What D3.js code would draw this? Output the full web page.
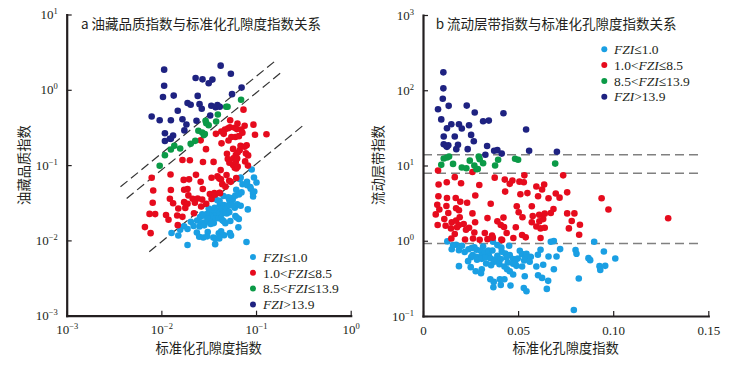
<!DOCTYPE html>
<html><head><meta charset="utf-8">
<script src="https://cdn.jsdelivr.net/npm/d3@7"></script>
<style>body{margin:0;background:#fff}</style>
</head><body>
<svg id="c" width="739" height="366"></svg>
<script>
// ---- data: [normalized porosity index φz, flow zone indicator FZI] ----
const blue = [[0.0128,0.98],[0.0151,0.77],[0.0174,0.885],[0.0189,0.75],[0.0205,0.86],[0.0219,0.71],[0.0239,0.77],[0.0256,0.80],[0.0270,0.82],[0.0281,0.76],
[0.0302,0.74],[0.0253,0.605],[0.0261,0.644],[0.0281,0.612],[0.0307,0.631],[0.0326,0.70],[0.0346,0.644],[0.0344,0.743],[0.0365,0.743],[0.0368,0.97],
[0.0391,0.875],[0.0391,0.631],[0.0414,0.714],[0.0433,0.678],[0.0453,0.858],[0.0456,0.644],[0.0237,0.536],[0.0284,0.558],[0.0309,0.575],[0.0328,0.60],
[0.0356,0.58],[0.0381,0.564],[0.0409,0.57],[0.0439,0.60],[0.0474,0.57],[0.0486,0.541],[0.0498,0.581],[0.0521,0.664],[0.0537,0.60],[0.0544,0.671],
[0.0567,0.612],[0.0618,0.76],[0.0604,0.651],[0.0660,0.618],[0.0672,0.97],[0.0688,0.99],[0.0702,0.618],[0.0721,0.774],[0.0802,0.751],[0.0807,0.671],
[0.0870,0.587],[0.0879,0.552],[0.0900,0.97],[0.0951,0.72],[0.1011,0.58],[0.0189,0.46],[0.0251,0.446],[0.0277,0.394],[0.0309,0.419],[0.0332,0.499],
[0.0358,0.474],[0.0375,0.525],[0.0402,0.489],[0.0428,0.455],[0.0446,0.514],[0.0474,0.494],[0.0491,0.464],[0.0521,0.455],[0.0532,0.547],[0.0596,0.455],
[0.0632,0.479],[0.0688,0.419],[0.0928,0.46],[0.0932,0.41],[0.0958,0.464],[0.0442,0.419],[0.0456,0.394],[0.0474,0.356],[0.0535,0.338],[0.0305,0.371],
[0.0354,0.308],[0.0372,0.284],[0.0404,0.308],[0.0428,0.308],[0.0460,0.254],[0.0370,0.241],[0.0409,0.259],[0.0605,0.348],[0.0626,0.321],[0.0658,0.293],
[0.0819,0.315],[0.0530,0.236],[0.0544,0.213],[0.0651,0.229],[0.0793,0.120],[0.0158,0.875],[0.0316,0.84],[0.0412,0.81],[0.0509,0.736],[0.0561,0.525]];

const red = [[0.0079,8.6],[0.0260,8.2],[0.0533,7.4],[0.0737,7.4],[0.0167,7.0],[0.0377,6.9],[0.0430,6.5],[0.0470,6.3],[0.0507,6.1],[0.0530,6.0],
[0.0082,5.6],[0.0125,6.0],[0.0200,5.8],[0.0296,5.5],[0.0456,5.7],[0.0596,5.25],[0.0626,4.8],[0.0637,5.6],[0.0432,4.5],[0.0549,4.3],
[0.0081,3.9],[0.0126,3.7],[0.0172,3.7],[0.0275,4.0],[0.0512,4.15],[0.0605,3.9],[0.0660,3.67],[0.0698,4.24],[0.0718,3.74],[0.0758,4.4],
[0.0939,3.67],[0.0196,3.3],[0.0232,3.2],[0.0356,3.1],[0.0075,3.0],[0.0123,2.9],[0.0174,2.7],[0.0493,2.87],[0.0572,2.87],[0.0686,2.64],
[0.0189,2.54],[0.0086,2.6],[0.0133,2.34],[0.0067,2.24],[0.0260,2.31],[0.0503,2.39],[0.0611,2.22],[0.0640,2.29],[0.0672,2.34],[0.0758,2.31],
[0.0796,2.31],[0.0975,2.6],[0.0112,1.94],[0.0151,1.76],[0.0174,1.85],[0.0193,2.05],[0.0214,1.67],[0.0339,2.0],[0.0391,1.81],[0.0423,2.03],
[0.0409,1.62],[0.0523,2.05],[0.0577,2.13],[0.0572,1.76],[0.0596,1.55],[0.0612,1.81],[0.0632,1.94],[0.0782,1.83],[0.0825,1.63],[0.1289,1.99],
[0.0077,1.62],[0.0119,1.58],[0.0189,1.62],[0.0147,1.46],[0.0179,1.51],[0.0242,1.49],[0.0274,1.76],[0.0167,1.23],[0.0226,1.40],[0.0270,1.29],
[0.0325,1.27],[0.0363,1.17],[0.0426,1.52],[0.0440,1.27],[0.0488,1.51],[0.0521,1.19],[0.0540,1.11],[0.0618,1.46],[0.0618,1.09],[0.0640,1.49],
[0.0767,1.46],[0.0821,1.20],[0.0149,1.07],[0.0221,1.04],[0.0263,1.07],[0.0298,1.03],[0.0339,1.05],[0.0367,1.10],[0.0412,1.04],[0.0475,1.09],
[0.0416,1.02]];

const green = [[0.0096,10.2],[0.0109,12.4],[0.0126,12.8],[0.0137,13.2],[0.0158,10.5],[0.0204,9.4],[0.0228,9.2],[0.0246,11.6],[0.0270,10.0],[0.0281,8.9],
[0.0293,13.2],[0.0298,12.1],[0.0316,10.7],[0.0379,10.0],[0.0395,11.9],[0.0484,12.3],[0.0500,11.9],[0.0695,10.6],[0.0288,9.0]];

const navy = [[0.0107,173],[0.0107,106],[0.0104,77],[0.0079,56],[0.0135,62],[0.0230,62.5],[0.0272,50.6],[0.0096,41],[0.0316,38.7],[0.0346,39.5],
[0.0423,49.5],[0.0126,31.3],[0.0149,35.4],[0.0189,35.4],[0.0204,31],[0.0242,34.3],[0.0542,30.1],[0.0109,24.3],[0.0167,24.3],[0.0253,25.5],
[0.0109,19.2],[0.0123,18.2],[0.0133,18.6],[0.0184,18.8],[0.0175,16.5],[0.0235,16.5],[0.0267,21],[0.0337,18.2],[0.0374,15.7],[0.0391,16],
[0.0328,13.9],[0.0414,14.4],[0.0558,15.7],[0.0704,15.2],[0.0126,17.7]];

const classNames = [["FZI","≤1.0",""],["1.0<","FZI","≤8.5"],["8.5<","FZI","≤13.9"],["FZI",">13.9",""]];
const classColors = ["#1a9fe3","#e60b1d","#0b9a47","#1e2281"];
const classData = [blue, red, green, navy];

const xTicksLeft = [1e-3,1e-2,1e-1,1];
const yTicksLeft = [1e-3,1e-2,1e-1,1,10];
const xTicksRight = [0,0.05,0.10,0.15];
const yTicksRight = [0.1,1,10,100,1000];

// reference lines
const refLinesLeft = [[[0.0037,0.0515],[0.1675,2.54]],[[0.0043,0.0361],[0.194,1.79]],[[0.00745,0.00706],[0.334,0.358]]];
const refFziRight = [13.9,7.9,0.92];
const refRightXEnd = 0.147;

const titleLeft = "a 油藏品质指数与标准化孔隙度指数关系";
const titleRight = "b 流动层带指数与标准化孔隙度指数关系";
const xLabel = "标准化孔隙度指数";
const yLabelLeft = "油藏品质指数";
const yLabelRight = "流动层带指数";

// ---- drawing ----
const svg = d3.select("#c");
const serif = "'Liberation Serif','Times New Roman',serif";
const cjk = "'Noto Sans CJK SC','Noto Sans CJK JP',sans-serif";
const ink = "#231f20";
const R = 3.3;

const xL = d3.scaleLog().domain([1e-3,1]).range([66.7,350.7]);
const yL = d3.scaleLog().domain([1e-3,10]).range([315.7,14.5]);
const xR = d3.scaleLinear().domain([0,0.15]).range([423,708.3]);
const yR = d3.scaleLog().domain([0.1,1000]).range([316,15]);

function supFmt(g){
  g.selectAll(".tick text").each(function(d){
    const t = d3.select(this); t.text(null);
    t.append("tspan").text("10");
    const e = Math.round(Math.log10(d));
    t.append("tspan").attr("dy",-5).style("font-size","8.5px").text(e<0 ? "−"+(-e) : String(e));
  });
}
function styleAxis(g){
  g.attr("font-family",null).attr("font-size",null);
  g.select(".domain").attr("stroke",ink).attr("stroke-width",2.2).attr("stroke-linecap","square");
  g.selectAll(".tick line").attr("stroke",ink).attr("stroke-width",1.2);
  g.selectAll(".tick text").attr("fill",ink).style("font-family",serif).style("font-size","13px");
}

function panel(xs, ys, xTicks, yTicks, logX, yOf, refDraw, title, ylab, titleX, ylabX, legend){
  refDraw();
  classData.forEach((arr,i)=>{
    svg.append("g").selectAll("circle").data(arr).join("circle")
      .attr("cx",d=>xs(d[0])).attr("cy",d=>ys(yOf(d)))
      .attr("r",R).attr("fill",classColors[i]);
  });
  const ax = d3.axisBottom(xs).tickValues(xTicks).tickSizeInner(-5).tickSizeOuter(0).tickPadding(9.5);
  if(logX) ax.tickFormat(()=>""); else ax.tickFormat(d=> d===0 ? "0" : d3.format(".2f")(d));
  const gx = svg.append("g").attr("transform",`translate(0,${ys.range()[0]})`).call(ax);
  if(logX) supFmt(gx);
  styleAxis(gx);
  const ay = d3.axisLeft(ys).tickValues(yTicks).tickSizeInner(-5).tickSizeOuter(0).tickPadding(9).tickFormat(()=>"");
  const gy = svg.append("g").attr("transform",`translate(${xs.range()[0]},0)`).call(ay);
  supFmt(gy); styleAxis(gy);
  svg.append("text").attr("x",titleX).attr("y",29).style("font-family",cjk).style("font-size","13.5px")
    .attr("fill",ink).text(title);
  svg.append("text").attr("transform",`translate(${ylabX},165) rotate(-90)`).attr("text-anchor","middle")
    .attr("dy","0.35em").style("font-family",cjk).style("font-size","13.3px").attr("fill",ink).text(ylab);
  const xr = xs.range();
  svg.append("text").attr("x",(xr[0]+xr[1])/2).attr("y",348.5).attr("dy","0.35em").attr("text-anchor","middle")
    .style("font-family",cjk).style("font-size","13.3px").attr("fill",ink).text(xLabel);
  const lg = svg.append("g");
  classNames.forEach((parts,i)=>{
    const y = legend.y0 + i*legend.dy;
    lg.append("circle").attr("cx",legend.mx).attr("cy",y).attr("r",3).attr("fill",classColors[i]);
    const t = lg.append("text").attr("x",legend.tx).attr("y",y).attr("dy","0.35em")
      .style("font-family",serif).style("font-size","13.5px").attr("fill",ink);
    parts.forEach(p=>{ if(p) t.append("tspan").style("font-style",p==="FZI"?"italic":"normal").text(p); });
  });
}

// panel a: y = RQI = FZI × φz (as plotted in the source)
panel(xL, yL, xTicksLeft, yTicksLeft, true, d=>d[0]*d[1], ()=>{
  svg.append("g").selectAll("line").data(refLinesLeft).join("line")
    .attr("x1",d=>xL(d[0][0])).attr("y1",d=>yL(d[0][1]))
    .attr("x2",d=>xL(d[1][0])).attr("y2",d=>yL(d[1][1]))
    .attr("stroke","#333").attr("stroke-width",1.2).attr("stroke-dasharray","9,4.5");
}, titleLeft, yLabelLeft, 81, 24, {mx:253, tx:263, y0:257, dy:15.8});

// panel b: y = FZI
panel(xR, yR, xTicksRight, yTicksRight, false, d=>d[1], ()=>{
  svg.append("g").selectAll("line").data(refFziRight).join("line")
    .attr("x1",xR(0)).attr("x2",xR(refRightXEnd)).attr("y1",d=>yR(d)).attr("y2",d=>yR(d))
    .attr("stroke","#808080").attr("stroke-width",1.5).attr("stroke-dasharray","9,5");
}, titleRight, yLabelRight, 435.7, 378, {mx:604.3, tx:614, y0:49.3, dy:15.8});
</script>
</body></html>
